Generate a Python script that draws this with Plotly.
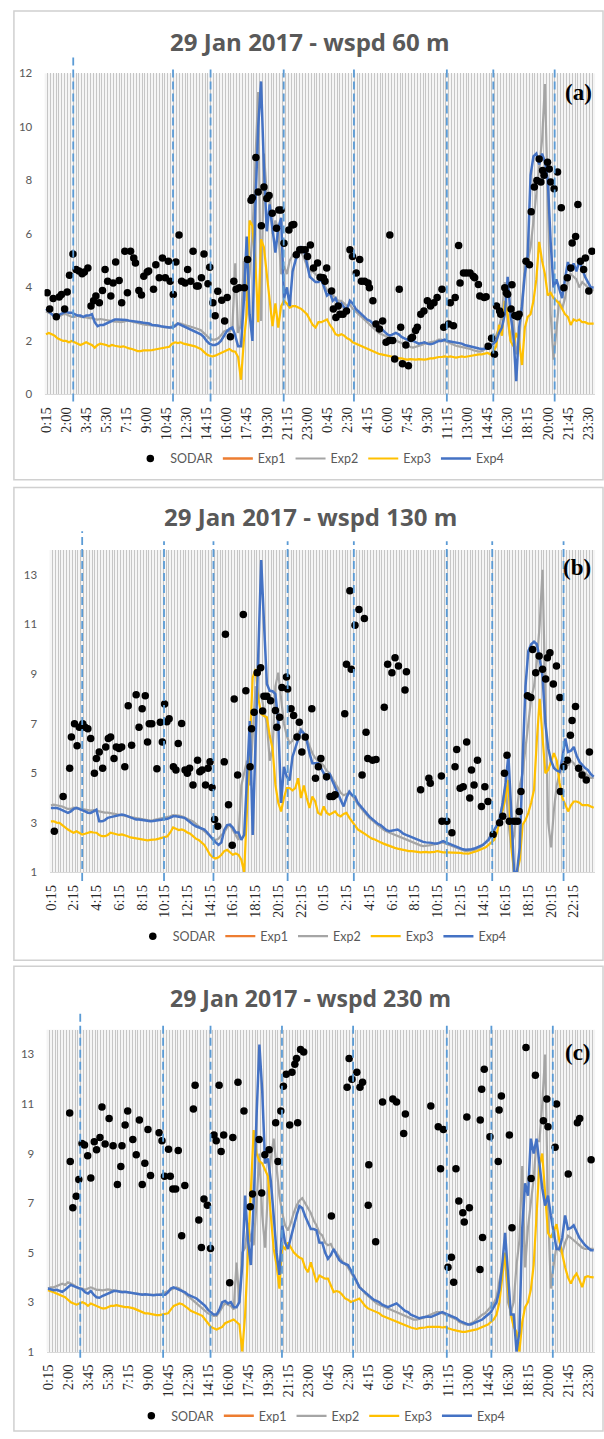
import plotly.graph_objects as go

W, H = 604, 1439

# ---------------- tick labels ----------------
ticks_ac = ["0:15","2:00","3:45","5:30","7:15","9:00","10:45","12:30","14:15","16:00",
            "17:45","19:30","21:15","23:00","0:45","2:30","4:15","6:00","7:45","9:30",
            "11:15","13:00","14:45","16:30","18:15","20:00","21:45","23:30"]
ticks_b = ["0:15","2:15","4:15","6:15","8:15","10:15","12:15","14:15","16:15","18:15",
           "20:15","22:15","0:15","2:15","4:15","6:15","8:15","10:15","12:15","14:15",
           "16:15","18:15","20:15","22:15"]
N_STEPS = 192  # 15-min steps, 0:15 day 1 ... 24:00 day 2

# ---------------- panel (a) 60 m ----------------
exp1_a = [None]   # Exp1 is not visible in the chart (legend entry only)
exp2_a = [3.1,3.05,3.0,3.0,2.95,2.95,3.0,3.0,2.95,2.9,2.9,2.95,
          2.9,2.9,2.88,2.85,2.85,2.82,2.8,2.82,2.8,2.78,2.75,2.75,
          2.72,2.72,2.7,2.72,2.75,2.75,2.72,2.7,2.68,2.65,2.62,2.6,
          2.6,2.58,2.58,2.55,2.55,2.52,2.5,2.5,2.55,2.6,2.65,2.65,
          2.6,2.58,2.55,2.52,2.5,2.45,2.4,2.3,2.2,2.1,2.05,2.05,
          2.1,2.2,2.35,2.4,2.35,2.5,4.9,2.3,2.6,5.0,3.5,4.5,
          6.0,9.0,11.3,2.75,9.0,7.5,7.4,6.0,6.5,6.2,4.5,4.8,
          4.5,5.0,5.2,5.3,5.5,5.3,5.1,4.8,4.6,4.6,4.5,4.4,
          4.3,4.1,3.9,3.8,3.7,3.6,3.5,3.5,3.4,3.3,3.35,3.2,
          3.1,3.0,2.9,2.8,2.7,2.6,2.5,2.4,2.3,2.25,2.2,2.15,
          2.1,2.05,2.0,1.95,1.9,1.85,1.8,1.78,1.75,1.78,1.8,1.85,
          1.9,1.92,1.95,1.98,2.0,2.05,2.05,2.0,1.95,1.9,1.85,1.82,
          1.8,1.78,1.75,1.72,1.7,1.65,1.62,1.6,1.62,1.68,1.75,1.85,
          2.0,2.2,2.5,3.0,4.2,2.8,2.0,2.8,1.5,2.0,3.5,4.8,
          5.0,5.5,6.5,7.5,8.5,9.5,11.6,7.0,3.0,1.3,2.5,3.5,
          3.2,3.6,4.2,4.5,4.4,4.3,4.0,4.2,4.1,4.0,3.9,3.9]
exp3_a = [2.25,2.3,2.25,2.2,2.1,2.05,2.0,2.0,1.95,2.0,1.95,1.9,
          1.85,1.9,1.95,1.9,1.85,1.75,1.85,1.9,1.88,1.85,1.8,1.85,
          1.82,1.8,1.78,1.8,1.75,1.72,1.7,1.65,1.62,1.62,1.65,1.65,
          1.65,1.66,1.68,1.7,1.7,1.72,1.75,1.78,1.9,1.95,1.92,1.95,
          1.9,1.88,1.85,1.82,1.8,1.75,1.7,1.6,1.5,1.45,1.42,1.45,
          1.5,1.55,1.62,1.65,1.7,1.62,1.6,1.4,0.55,2.0,3.0,6.5,
          6.3,5.0,2.7,5.8,5.5,4.5,3.4,2.55,3.4,2.5,3.3,3.5,
          3.4,3.25,3.3,3.3,3.25,3.2,3.1,3.0,2.8,2.6,2.5,2.7,
          2.7,2.75,2.8,2.6,2.45,2.25,2.2,2.25,2.2,2.1,2.05,1.95,
          1.9,1.85,1.8,1.75,1.7,1.65,1.6,1.55,1.52,1.5,1.48,1.45,
          1.42,1.4,1.38,1.35,1.35,1.32,1.3,1.32,1.3,1.3,1.32,1.3,
          1.3,1.32,1.35,1.35,1.38,1.4,1.4,1.42,1.4,1.42,1.4,1.38,
          1.4,1.42,1.4,1.42,1.45,1.45,1.48,1.5,1.5,1.52,1.55,1.5,
          1.6,1.8,2.6,2.2,3.5,3.0,2.0,1.8,2.3,2.0,1.1,2.5,
          2.9,3.0,3.5,4.3,5.7,5.0,4.5,3.7,3.8,3.6,3.5,3.4,
          3.2,3.0,2.9,2.6,2.8,2.75,2.8,2.7,2.7,2.65,2.65,2.65]
exp4_a = [3.2,3.1,3.0,2.9,2.95,3.0,3.05,3.1,3.05,3.05,3.0,2.95,
          2.95,2.9,2.95,2.95,3.0,2.7,2.55,2.6,2.6,2.65,2.7,2.75,
          2.8,2.8,2.8,2.8,2.78,2.76,2.75,2.74,2.72,2.7,2.68,2.66,
          2.65,2.6,2.6,2.58,2.55,2.53,2.52,2.5,2.5,2.55,2.65,2.6,
          2.55,2.5,2.45,2.4,2.35,2.3,2.25,2.15,2.0,1.9,1.85,1.85,
          1.9,2.0,2.2,2.35,2.45,2.5,2.2,1.8,1.8,3.5,5.9,3.0,
          2.0,7.0,10.0,11.7,8.5,6.1,7.1,6.2,5.3,6.2,6.6,3.6,
          4.0,3.3,4.6,5.0,5.3,5.5,5.4,4.9,4.4,4.3,4.2,4.2,
          4.3,4.0,3.7,3.8,3.5,3.6,3.3,3.4,3.25,3.2,3.5,3.4,
          3.2,3.1,3.0,2.9,2.8,2.75,2.65,2.55,2.5,2.45,2.35,2.25,
          2.2,2.25,2.3,2.25,2.15,2.1,2.05,2.0,2.0,1.95,1.9,1.92,
          1.95,1.9,1.88,1.9,1.95,2.0,2.0,2.05,2.0,1.98,1.95,1.95,
          1.92,1.9,1.85,1.82,1.8,1.78,1.75,1.72,1.7,1.7,1.72,1.8,
          1.9,2.0,2.3,2.5,3.0,4.4,3.0,2.2,0.5,2.5,3.3,4.5,
          5.2,8.2,8.9,9.0,8.6,9.0,8.7,8.0,5.7,4.0,4.3,3.9,
          3.6,4.3,4.95,4.6,4.9,4.6,5.0,4.7,4.4,4.2,4.0,4.0]
# SODAR observations: (time in 15-min steps from 0:15 day 1, wind speed)
sodar_a = [(0.4,3.80),(1.3,3.19),(2.5,3.59),(3.6,2.90),(4.6,3.64),(5.4,3.74),(6.5,3.19),(7.4,3.83),
           (8.2,4.46),(9.4,5.25),(10.5,4.67),(11.5,4.61),(12.6,4.51),(13.4,4.58),(14.6,4.73),(15.7,3.31),
           (16.6,3.50),(17.4,3.68),(18.6,3.43),(19.7,3.89),(20.6,4.67),(21.5,4.23),(22.6,3.68),(23.4,4.17),
           (24.3,4.95),(25.5,4.26),(26.4,3.43),(27.5,5.35),(28.4,3.80),(29.5,5.35),(30.6,5.10),(31.2,4.91),
           (32.4,3.89),(33.3,3.72),(34.1,4.42),(35.3,4.58),(35.8,4.61),(37.5,3.93),(38.3,4.85),(39.5,4.36),
           (40.6,5.10),(41.6,4.36),(42.7,4.98),(43.3,4.23),(44.4,3.74),(45.3,4.95),(46.4,5.96),(47.3,4.23),
           (48.5,4.17),(49.4,4.67),(50.5,4.23),(51.3,5.35),(52.5,4.05),(53.1,4.05),(54.2,4.36),(55.1,5.25),
           (56.5,4.14),(57.1,4.75),(58.2,3.43),(59.0,2.94),(59.9,3.86),(61.3,3.52),(62.3,2.75),(63.2,3.62),
           (64.3,2.16),(65.5,4.23),(66.3,3.93),(67.4,3.99),(69.2,3.99),(70.3,5.04),(71.5,7.26),(72.0,7.35),
           (73.2,8.86),(74.0,7.57),(75.1,6.31),(76.0,7.75),(77.0,7.32),(77.8,7.44),(78.9,6.77),(80.4,6.21),
           (81.2,6.89),(82.0,6.89),(83.0,5.65),(84.7,6.15),(85.8,6.33),(86.4,6.35),(87.3,5.22),(88.5,5.41),
           (89.3,5.41),(90.4,5.41),(91.2,5.16),(92.2,5.59),(93.3,4.73),(94.7,4.91),(95.6,4.38),(96.7,4.36),
           (97.3,4.23),(97.9,4.73),(99.6,3.87),(100.2,3.19),(101.1,2.88),(101.9,3.31),(102.5,3.00),(103.6,3.00),
           (104.8,3.12),(106.0,5.41),(106.9,5.16),(108.2,4.54),(109.4,5.04),(110.0,4.23),(111.1,4.23),(112.3,4.17),
           (112.8,3.99),(114.0,3.50),(115.1,2.63),(116.3,2.45),(117.4,2.75),(118.6,1.95),(119.7,2.02),(119.9,5.96),
           (120.9,2.02),(121.6,1.33),(123.2,3.93),(123.7,2.51),(124.3,1.15),(125.5,1.85),(126.4,1.07),(127.3,2.10),
           (127.8,2.14),(128.9,2.39),(129.5,2.51),(130.7,3.00),(131.8,3.12),(133.0,3.50),(134.1,3.31),(135.3,3.43),
           (136.4,3.62),(138.1,3.93),(138.7,2.51),(140.4,2.63),(141.0,3.43),(142.1,2.57),(142.7,3.62),(143.9,5.57),
           (144.4,4.17),(145.6,4.54),(146.7,4.54),(147.9,4.54),(149.0,4.42),(149.5,4.36),(150.8,4.11),(151.3,3.68),
           (152.8,3.62),(153.5,3.65),(154.2,1.80),(155.4,2.10),(156.4,1.50),(157.1,3.31),(158.2,3.12),(158.6,3.00),
           (160.0,3.99),(160.5,3.80),(161.0,3.75),(162.2,3.19),(162.5,4.10),(163.5,2.95),(164.5,2.90),(165.0,3.00),
           (167.4,4.98),(168.6,4.85),(169.2,6.83),(170.3,7.75),(171.2,8.00),(172.0,8.80),(172.6,7.94),(173.2,8.37),
           (173.7,8.19),(174.9,8.68),(175.5,8.43),(176.0,7.94),(177.2,7.69),(178.4,8.31),(179.7,6.98),(180.6,3.99),
           (181.8,4.36),(183.0,4.73),(183.5,5.66),(184.7,5.90),(185.5,7.10),(186.4,4.98),(187.5,4.67),(188.1,5.10),
           (189.3,3.87),(190.4,5.35)]
events_a = [9.5, 44.3, 57.4, 82.9, 107.4, 139.8, 156.0, 177.4]

# ---------------- panel (b) 130 m ----------------
exp1_b = [None]
exp2_b = [3.7,3.72,3.7,3.68,3.65,3.6,3.55,3.55,3.6,3.58,3.55,3.55,
          3.52,3.5,3.48,3.5,3.5,3.45,3.42,3.4,3.4,3.38,3.35,3.35,
          3.32,3.3,3.28,3.25,3.22,3.2,3.18,3.15,3.12,3.1,3.08,3.08,
          3.1,3.12,3.15,3.18,3.2,3.22,3.25,3.3,3.3,3.28,3.25,3.2,
          3.15,3.1,3.05,2.95,2.85,2.75,2.65,2.55,2.45,2.35,2.3,2.35,
          2.5,2.6,2.8,2.9,2.7,2.5,2.3,4.5,5.0,5.5,4.5,6.5,
          8.5,8.0,8.2,7.5,7.0,5.5,6.0,8.5,9.05,8.0,7.0,6.5,
          6.2,6.3,6.5,6.6,6.8,6.6,6.4,6.1,5.8,5.6,5.5,5.4,
          5.3,5.1,5.0,4.8,4.6,4.4,4.2,4.1,4.15,4.2,4.1,3.9,
          3.75,3.6,3.45,3.3,3.2,3.1,3.0,2.9,2.8,2.72,2.65,2.6,
          2.55,2.5,2.45,2.4,2.35,2.3,2.25,2.2,2.15,2.1,2.08,2.05,
          2.05,2.08,2.1,2.12,2.15,2.18,2.2,2.15,2.1,2.05,2.0,1.95,
          1.9,1.88,1.85,1.85,1.88,1.9,1.95,2.0,2.1,2.2,2.35,2.5,
          2.7,2.9,3.2,3.8,4.5,3.0,2.0,2.5,3.5,4.5,5.0,6.0,
          7.0,8.0,8.5,9.5,11.0,13.2,8.0,3.0,2.0,3.5,4.5,5.0,
          5.2,5.6,5.3,5.5,5.4,5.2,5.0,5.1,5.0,4.9,4.8,4.8]
exp3_b = [3.05,3.05,3.0,2.99,2.9,2.8,2.72,2.65,2.59,2.65,2.6,2.52,
          2.55,2.6,2.62,2.6,2.59,2.5,2.45,2.45,2.5,2.59,2.55,2.52,
          2.5,2.52,2.5,2.45,2.4,2.38,2.35,2.32,2.3,2.28,2.28,2.3,
          2.3,2.32,2.35,2.38,2.4,2.45,2.6,2.8,2.75,2.7,2.72,2.68,
          2.6,2.55,2.45,2.35,2.3,2.2,2.1,1.9,1.7,1.6,1.55,1.6,
          1.7,1.85,1.9,1.8,1.7,1.75,1.7,1.5,1.0,3.5,6.0,8.85,
          9.2,8.0,7.39,7.3,7.25,6.5,5.99,4.52,3.8,3.45,4.0,4.39,
          4.39,4.3,4.39,4.79,3.99,4.5,4.0,3.59,4.05,3.85,3.39,3.32,
          3.65,3.4,3.32,3.4,3.45,3.3,3.25,3.35,3.39,3.2,3.05,2.85,
          2.72,2.65,2.59,2.5,2.42,2.35,2.32,2.25,2.2,2.15,2.1,2.05,
          2.0,1.98,1.95,1.92,1.9,1.88,1.85,1.85,1.82,1.82,1.8,1.82,
          1.82,1.8,1.8,1.82,1.85,1.82,1.8,1.8,1.8,1.78,1.78,1.8,
          1.78,1.76,1.75,1.75,1.78,1.8,1.85,1.9,1.95,2.0,2.1,2.2,
          2.3,2.6,3.2,3.5,4.0,4.72,2.0,1.0,1.0,1.5,2.92,3.1,
          3.39,3.8,4.32,6.32,7.99,6.45,4.99,5.12,5.5,5.8,5.5,4.6,
          3.99,3.7,3.45,3.7,3.85,3.85,3.8,3.7,3.7,3.7,3.65,3.6]
exp4_b = [3.59,3.6,3.59,3.55,3.5,3.45,3.39,3.45,3.55,3.59,3.55,3.52,
          3.45,3.4,3.39,3.45,3.52,3.05,3.05,3.1,3.19,3.22,3.25,3.28,
          3.3,3.32,3.3,3.25,3.2,3.15,3.12,3.12,3.1,3.08,3.06,3.05,
          3.06,3.08,3.1,3.12,3.12,3.15,3.2,3.25,3.25,3.22,3.2,3.19,
          3.1,3.0,2.92,2.85,2.8,2.75,2.72,2.6,2.45,2.32,2.2,2.1,
          2.2,2.7,2.9,2.92,2.8,2.6,2.6,2.3,2.5,4.7,7.1,2.5,
          6.0,10.0,13.6,11.0,8.59,8.32,8.3,8.19,7.05,3.79,5.25,4.85,
          4.7,5.65,6.0,6.32,6.72,6.6,6.32,5.8,5.39,5.39,5.39,5.2,
          5.0,4.72,4.99,4.7,4.45,4.2,3.9,3.65,4.0,4.25,4.1,4.05,
          3.8,3.65,3.5,3.4,3.25,3.15,3.05,2.95,2.9,2.8,2.7,2.65,
          2.68,2.7,2.72,2.65,2.55,2.5,2.45,2.4,2.35,2.3,2.25,2.22,
          2.2,2.2,2.18,2.15,2.15,2.2,2.25,2.2,2.15,2.1,2.05,2.0,
          1.95,1.92,1.9,1.9,1.92,1.95,2.0,2.05,2.1,2.2,2.3,2.5,
          2.7,2.9,3.2,3.8,4.6,5.72,3.39,1.0,1.0,2.0,5.5,8.5,
          9.92,10.2,10.3,10.2,9.6,8.9,7.0,6.0,5.5,5.2,5.1,5.05,
          5.6,6.39,5.85,5.9,6.05,5.7,5.45,5.32,5.2,5.12,4.95,4.85]
sodar_b = [(1.2,2.65),(4.3,4.05),(6.6,5.19),(7.2,6.45),(8.3,6.99),(9.2,6.10),(10.0,6.85),(11.2,6.99),
           (12.0,6.85),(13.0,6.79),(14.0,6.39),(15.3,4.99),(16.0,5.59),(17.0,5.85),(18.2,5.19),(19.3,6.05),
           (20.2,6.39),(21.0,6.45),(22.2,5.59),(23.0,6.05),(24.0,5.99),(24.9,6.05),(26.0,5.25),(27.2,7.72),
           (28.4,6.12),(30.0,8.16),(31.0,6.85),(32.1,7.59),(33.2,8.12),(34.0,6.25),(34.6,6.99),(35.5,6.99),
           (37.3,5.17),(38.5,7.05),(39.2,6.25),(40.0,7.79),(40.8,7.07),(41.6,7.19),(43.1,5.25),(44.0,5.12),
           (44.8,6.19),(46.0,7.00),(47.2,5.12),(48.0,4.99),(48.8,5.19),(50.0,4.52),(51.6,5.52),(52.4,5.05),
           (53.2,5.12),(54.4,4.52),(55.3,5.19),(56.0,5.45),(56.7,4.42),(57.6,3.12),(58.7,2.85),(61.0,5.45),
           (61.4,10.60),(62.5,3.72),(63.8,2.08),(64.5,7.99),(65.7,4.92),(67.7,11.40),(68.6,8.32),(70.1,5.25),
           (70.6,6.79),(71.5,7.45),(72.6,9.05),(73.8,9.25),(74.5,7.50),(75.0,8.10),(76.0,8.10),(77.3,7.92),
           (79.0,7.52),(79.5,6.85),(80.5,7.25),(81.3,8.45),(82.9,8.88),(83.3,8.39),(84.5,7.59),(85.4,7.32),
           (86.6,6.45),(87.4,7.05),(88.3,5.85),(89.5,6.45),(91.8,7.59),(93.1,4.79),(94.1,5.25),(95.0,5.59),
           (97.0,4.85),(98.2,4.05),(99.2,4.05),(100.0,4.12),(103.4,7.39),(104.0,9.39),(105.2,12.36),(105.7,9.19),
           (107.0,10.96),(108.4,11.60),(109.5,4.92),(110.3,11.24),(110.9,6.65),(111.5,5.59),(113.2,5.52),(114.4,5.55),
           (117.3,7.65),(118.5,9.39),(120.0,9.05),(121.1,9.65),(122.3,9.32),(124.6,8.35),(125.1,9.09),(130.1,4.32),
           (133.0,4.79),(133.5,4.59),(137.4,4.88),(137.6,3.05),(139.3,3.05),(141.1,2.59),(142.2,5.25),(142.8,5.95),
           (144.0,4.39),(145.1,4.45),(146.3,6.25),(147.4,3.99),(148.0,5.12),(148.9,4.52),(150.1,5.52),(151.5,3.65),
           (152.7,4.45),(153.8,3.85),(155.6,2.52),(157.9,2.99),(159.0,3.25),(159.6,4.99),(160.5,5.72),(161.3,3.05),
           (163.0,3.05),(164.2,3.05),(164.8,3.45),(165.4,4.25),(167.7,8.12),(168.9,8.05),(169.5,9.99),(170.6,9.05),
           (171.8,9.72),(173.0,9.19),(174.1,8.79),(174.7,9.65),(175.6,9.85),(176.8,8.59),(177.9,9.32),(179.1,8.05),
           (179.3,4.25),(180.5,5.25),(181.7,5.52),(182.8,6.52),(183.4,7.12),(184.6,7.68),(185.7,5.19),(186.9,4.92),
           (188.4,4.72),(189.5,5.85)]
events_b = [11.0, 39.8, 57.2, 83.3, 106.6, 139.3, 155.3, 180.4]

# ---------------- panel (c) 230 m ----------------
exp1_c = [None]
exp2_c = [3.55,3.6,3.6,3.65,3.7,3.75,3.7,3.8,3.75,3.7,3.6,3.55,
          3.55,3.5,3.55,3.6,3.55,3.5,3.5,3.48,3.5,3.52,3.5,3.48,
          3.45,3.45,3.42,3.4,3.4,3.38,3.36,3.35,3.35,3.32,3.3,3.3,
          3.28,3.28,3.28,3.3,3.35,3.4,3.45,3.5,3.55,3.6,3.55,3.45,
          3.35,3.25,3.15,3.05,2.95,2.85,2.75,2.65,2.55,2.5,2.45,2.45,
          2.6,2.8,2.95,2.9,2.85,2.7,4.6,3.0,5.0,5.2,6.2,5.5,
          5.3,7.0,9.0,6.5,5.2,7.5,8.8,9.6,8.4,7.3,6.6,6.1,
          5.9,6.2,6.6,6.9,7.1,7.2,7.0,6.8,6.6,6.3,6.1,5.8,
          5.7,5.4,5.3,5.35,5.1,5.0,4.8,4.65,4.55,4.4,4.2,4.0,
          3.8,3.65,3.5,3.35,3.25,3.15,3.05,2.95,2.9,2.85,2.8,2.75,
          2.7,2.65,2.6,2.55,2.5,2.45,2.4,2.35,2.3,2.3,2.32,2.35,
          2.4,2.45,2.5,2.55,2.6,2.6,2.55,2.5,2.45,2.4,2.35,2.3,
          2.2,2.15,2.1,2.1,2.15,2.2,2.3,2.4,2.5,2.55,2.7,2.8,
          2.95,3.2,3.8,4.5,4.8,3.0,2.6,3.0,4.5,5.5,8.5,4.4,
          6.0,7.0,8.0,9.5,9.5,11.0,13.0,7.0,3.55,4.5,5.28,5.1,
          5.0,5.4,5.68,5.6,5.5,5.41,5.3,5.2,5.15,5.15,5.15,5.15]
exp3_c = [3.48,3.45,3.4,3.35,3.3,3.25,3.2,3.1,3.0,2.95,2.9,2.95,
          3.0,2.95,2.85,2.95,2.9,2.85,2.8,2.75,2.75,2.8,2.85,2.85,
          2.88,2.85,2.82,2.8,2.8,2.78,2.75,2.7,2.65,2.6,2.55,2.55,
          2.52,2.5,2.48,2.48,2.5,2.5,2.55,2.7,2.85,2.9,2.95,2.92,
          2.85,2.75,2.65,2.6,2.55,2.5,2.45,2.3,2.15,2.0,1.95,1.9,
          1.95,2.0,2.15,2.2,2.25,2.3,2.2,2.1,1.0,2.5,5.0,7.5,
          9.95,9.0,8.7,8.6,8.3,8.08,6.5,5.15,4.5,3.55,5.28,5.15,
          5.41,5.2,5.01,4.9,4.8,4.75,4.4,4.21,4.61,4.2,3.81,4.08,
          4.0,3.95,3.95,3.7,3.41,3.45,3.41,3.3,3.15,3.1,3.01,3.05,
          3.1,3.15,3.0,2.85,2.75,2.7,2.65,2.61,2.55,2.45,2.4,2.35,
          2.3,2.25,2.2,2.15,2.1,2.05,2.0,1.98,1.95,1.92,1.95,1.95,
          1.98,2.0,2.0,2.0,2.02,2.0,1.98,2.0,1.95,1.9,1.88,1.85,
          1.82,1.8,1.8,1.82,1.85,1.88,1.9,1.95,2.0,2.05,2.1,2.2,
          2.3,2.5,3.0,4.0,5.0,3.5,2.5,2.0,1.8,1.0,2.2,2.8,
          3.0,3.5,4.5,6.5,8.5,9.0,7.2,5.8,5.6,5.9,6.15,5.48,
          4.9,4.41,4.0,3.75,4.0,4.15,3.9,3.61,4.01,4.05,4.01,4.0]
exp4_c = [3.55,3.5,3.48,3.5,3.45,3.42,3.5,3.6,3.7,3.65,3.6,3.55,
          3.52,3.4,3.35,3.45,3.3,3.2,3.18,3.25,3.3,3.35,3.4,3.45,
          3.45,3.42,3.4,3.42,3.4,3.38,3.35,3.32,3.3,3.3,3.32,3.3,
          3.3,3.28,3.3,3.3,3.28,3.3,3.4,3.55,3.6,3.55,3.5,3.45,
          3.4,3.3,3.25,3.2,3.15,3.05,2.95,2.85,2.7,2.6,2.5,2.5,
          2.7,3.0,3.05,2.95,3.0,2.8,2.8,3.0,4.5,7.3,5.5,4.5,
          7.0,10.5,13.4,11.5,8.6,8.8,7.9,6.5,5.0,4.1,6.1,5.4,
          5.15,5.6,6.1,6.5,6.88,6.8,6.48,6.2,5.95,5.95,5.9,5.41,
          5.4,5.0,4.75,4.9,5.15,4.9,4.7,4.6,4.55,4.5,4.3,4.1,
          3.85,3.6,3.5,3.4,3.3,3.2,3.1,3.05,3.0,2.9,2.85,2.8,
          2.85,2.9,2.95,2.85,2.75,2.65,2.6,2.5,2.45,2.4,2.35,2.38,
          2.4,2.42,2.4,2.45,2.5,2.55,2.6,2.55,2.5,2.45,2.4,2.35,
          2.25,2.2,2.15,2.1,2.1,2.15,2.2,2.25,2.3,2.4,2.5,2.6,
          2.8,3.0,3.5,4.5,5.8,4.1,2.5,2.5,1.0,1.8,6.0,7.8,
          7.3,9.6,9.0,9.6,8.5,7.6,6.9,7.3,6.5,5.8,5.15,5.15,
          5.6,6.5,5.95,6.0,6.1,5.85,5.6,5.45,5.3,5.2,5.1,5.1]
sodar_c = [(7.6,10.64),(7.8,8.68),(8.7,6.81),(9.9,7.28),(10.8,7.95),(11.9,9.41),(12.8,9.35),(13.9,8.91),
           (15.0,8.01),(16.2,9.48),(17.0,9.15),(18.2,9.65),(18.9,10.88),(20.0,9.39),(21.4,10.41),(22.8,9.31),
           (24.3,7.75),(25.5,8.48),(25.9,9.31),(27.0,10.15),(27.9,10.72),(29.7,9.57),(30.9,8.95),(32.0,10.35),
           (33.0,7.75),(33.9,8.61),(35.0,9.97),(35.9,8.11),(38.9,9.84),(39.9,9.52),(40.8,8.08),(42.2,9.17),
           (42.8,8.08),(43.7,7.57),(44.7,7.57),(45.6,9.12),(46.8,5.68),(47.9,7.71),(50.9,10.80),(51.5,11.76),
           (52.8,6.32),(53.7,5.21),(54.6,7.17),(55.8,6.91),(56.9,5.17),(58.1,9.75),(58.9,9.52),(59.9,11.76),
           (60.6,9.08),(61.5,9.75),(63.6,3.78),(64.7,9.65),(66.5,11.88),(68.6,10.72),(70.8,6.85),(71.6,7.37),
           (73.9,9.57),(74.8,7.41),(75.9,8.95),(77.4,9.15),(79.7,10.24),(80.5,8.68),(81.5,10.72),(82.4,11.72),
           (83.4,12.20),(84.6,10.15),(85.4,12.28),(86.4,12.60),(87.0,12.84),(87.4,10.24),(88.4,13.20),(89.5,13.10),
           (99.2,6.48),(104.7,11.68),(105.4,12.84),(106.4,12.00),(108.1,12.28),(109.2,11.68),(110.1,11.88),(112.1,6.91),
           (112.3,8.55),(114.7,5.44),(117.1,11.08),(120.7,11.20),(122.0,11.08),(124.5,9.81),(125.1,10.60),(134.0,10.92),
           (136.6,10.08),(137.4,8.39),(138.4,9.97),(140.0,4.41),(141.2,4.81),(142.0,3.81),(142.8,8.39),(143.8,7.08),
           (145.2,6.61),(145.7,6.24),(146.6,10.48),(147.5,6.81),(151.2,4.32),(151.3,10.35),(151.8,11.60),(152.1,5.61),
           (152.7,12.40),(154.7,9.68),(157.6,8.68),(157.9,10.76),(158.7,11.32),(161.5,9.75),(162.4,6.01),(167.3,13.28),
           (169.1,7.99),(170.6,12.16),(173.4,10.32),(174.6,11.20),(175.0,10.08),(177.5,9.25),(178.0,11.00),(182.1,8.17),
           (185.3,10.24),(186.1,10.41),(190.1,8.75)]
events_c = [11.3, 40.3, 56.9, 81.9, 106.8, 139.6, 155.2, 176.7]

# ---------------- styling / layout (pixels) ----------------
C_EXP1, C_EXP2, C_EXP3, C_EXP4 = "#ED7D31", "#A5A5A5", "#FFC000", "#4472C4"
C_EVT = "#5B9BD5"

def px(x):
    return x / W

def py(y):
    return 1 - y / H

panels = [
    dict(title="29 Jan 2017 - wspd 60 m", tsize=24, ty=35, tag="(a)", tagxy=(578, 86),
         plot=(38, 67, 595, 391), yr=[0, 12], yt=[0, 2, 4, 6, 8, 10, 12],
         ticks=ticks_ac, tstep=7, legy=456, box=(7, 4, 603, 477),
         dash=(47, 59, 398), events=events_a,
         exp1=exp1_a, exp2=exp2_a, exp3=exp3_a, exp4=exp4_a, sodar=sodar_a),
    dict(title="29 Jan 2017 - wspd 130 m", tsize=24, ty=514, tag="(b)", tagxy=(577, 566),
         plot=(43, 548, 595, 873), yr=[1, 14], yt=[1, 3, 5, 7, 9, 11, 13],
         ticks=ticks_b, tstep=8, legy=938, box=(7, 485, 603, 962),
         dash=(529, 539, 882), events=events_b,
         exp1=exp1_b, exp2=exp2_b, exp3=exp3_b, exp4=exp4_b, sodar=sodar_b),
    dict(title="29 Jan 2017 - wspd 230 m", tsize=23, ty=1000, tag="(c)", tagxy=(578, 1055),
         plot=(40, 1032, 595, 1357), yr=[1, 14], yt=[1, 3, 5, 7, 9, 11, 13],
         ticks=ticks_ac, tstep=7, legy=1422, box=(7, 968, 603, 1437),
         dash=(1013, 1024, 1363), events=events_c,
         exp1=exp1_c, exp2=exp2_c, exp3=exp3_c, exp4=exp4_c, sodar=sodar_c),
]

fig = go.Figure()
steps = list(range(N_STEPS))
shapes, annotations = [], []
layout = {}

for k, p in enumerate(panels, start=1):
    sfx = "" if k == 1 else str(k)
    xref, yref = "x" + sfx, "y" + sfx
    leg = "legend" + sfx
    x0, y0, x1, y1 = p["plot"]

    def add_line(vals, name, color, width, rank):
        fig.add_trace(go.Scatter(x=steps[:len(vals)], y=vals, mode="lines", name=name,
                                 line=dict(color=color, width=width), xaxis=xref, yaxis=yref,
                                 legend=leg, legendrank=rank, hoverinfo="skip"))

    add_line(p["exp1"], "Exp1", C_EXP1, 2.4, 2)
    add_line(p["exp2"], "Exp2", C_EXP2, 2.2, 3)
    add_line(p["exp3"], "Exp3", C_EXP3, 2.2, 4)
    add_line(p["exp4"], "Exp4", C_EXP4, 2.5, 5)
    fig.add_trace(go.Scatter(x=[s for s, v in p["sodar"]], y=[v for s, v in p["sodar"]],
                             mode="markers", name="SODAR",
                             marker=dict(color="black", size=7.5),
                             xaxis=xref, yaxis=yref, legend=leg, legendrank=1, hoverinfo="skip"))

    tickpos = list(range(0, N_STEPS, p["tstep"]))[:len(p["ticks"])]
    layout["xaxis" + sfx] = dict(
        domain=[px(x0), px(x1)], range=[-0.5, N_STEPS - 0.5], anchor=yref,
        tickmode="array", tickvals=tickpos, ticktext=p["ticks"], tickangle=-90,
        tickfont=dict(family="Liberation Serif", size=14.5, color="#262626"),
        showgrid=False, zeroline=False, showline=True, linecolor="#d9d9d9", linewidth=1,
        ticks="outside", ticklen=6, tickcolor="rgba(0,0,0,0)",
        minor=dict(tickmode="linear", tick0=-0.5, dtick=1, showgrid=True,
                   gridcolor="#c6c6c6", gridwidth=1, ticks=""),
        fixedrange=True)
    layout["yaxis" + sfx] = dict(
        domain=[py(y1), py(y0)], range=p["yr"], anchor=xref,
        tickmode="array", tickvals=p["yt"],
        tickfont=dict(family="Lato", size=11.5, color="#595959"),
        showgrid=False, zeroline=False, showline=False,
        ticks="outside", ticklen=9, tickcolor="rgba(0,0,0,0)", fixedrange=True)
    layout[leg] = dict(orientation="h", x=px((x0 + x1) / 2), xanchor="center",
                       y=py(p["legy"]), yanchor="middle", traceorder="normal",
                       font=dict(family="Lato", size=12.5, color="#595959"),
                       bgcolor="rgba(0,0,0,0)", itemwidth=30)

    bx0, by0, bx1, by1 = p["box"]
    shapes.append(dict(type="rect", xref="paper", yref="paper",
                       x0=px(bx0), x1=px(bx1), y0=py(by1), y1=py(by0),
                       line=dict(color="#d0d0d0", width=1.5), layer="below"))
    top_first, top_rest, bottom = p["dash"]
    for j, ev in enumerate(p["events"]):
        shapes.append(dict(type="line", xref=xref, yref="paper", x0=ev, x1=ev,
                           y0=py(bottom), y1=py(top_first if j == 0 else top_rest),
                           line=dict(color=C_EVT, width=1.8, dash="8px,4px"), layer="above"))

    annotations.append(dict(text="<b>" + p["title"] + "</b>", xref="paper", yref="paper",
                            x=px(307), y=py(p["ty"]), xanchor="center", yanchor="middle",
                            showarrow=False,
                            font=dict(family="Open Sans", size=p["tsize"], color="#595959")))
    annotations.append(dict(text="<b>" + p["tag"] + "</b>", xref="paper", yref="paper",
                            x=px(p["tagxy"][0]), y=py(p["tagxy"][1]),
                            xanchor="center", yanchor="middle", showarrow=False,
                            font=dict(family="Liberation Serif", size=23, color="black")))

fig.update_layout(
    width=W, height=H, autosize=False,
    margin=dict(l=0, r=0, t=0, b=0, pad=0),
    paper_bgcolor="white", plot_bgcolor="#f5f5f5",
    shapes=shapes, annotations=annotations, **layout)

fig.write_html("out.html", config={"displayModeBar": False})
